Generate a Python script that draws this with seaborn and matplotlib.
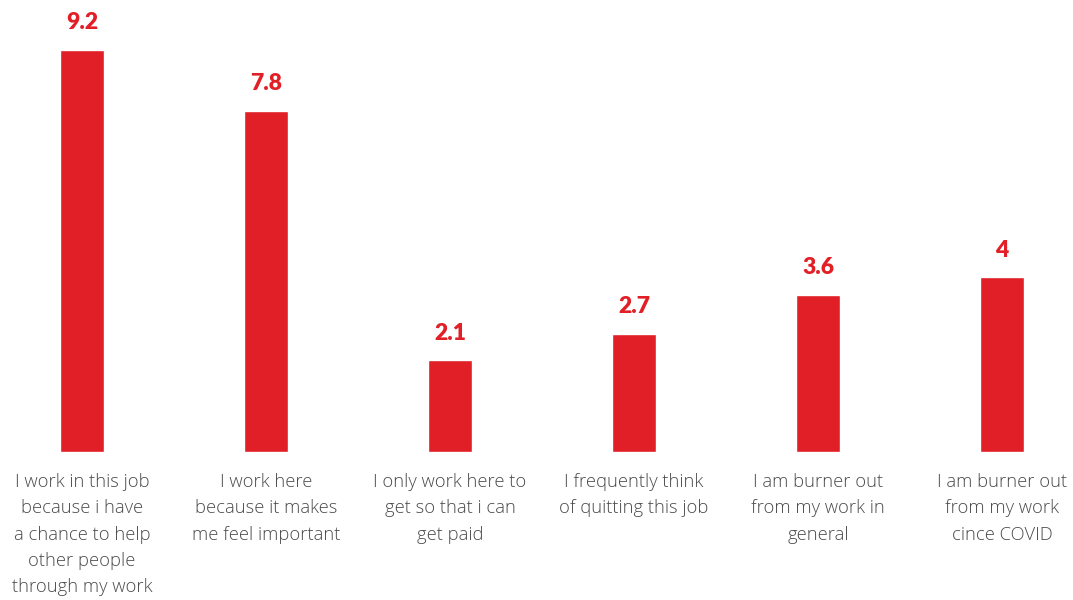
import matplotlib
matplotlib.use("Agg")
import matplotlib.pyplot as plt
import seaborn as sns
import pandas as pd

categories = [
    "I work in this job\nbecause i have\na chance to help\nother people\nthrough my work",
    "I work here\nbecause it makes\nme feel important",
    "I only work here to\nget so that i can\nget paid",
    "I frequently think\nof quitting this job",
    "I am burner out\nfrom my work in\ngeneral",
    "I am burner out\nfrom my work\ncince COVID",
]
values = [9.2, 7.8, 2.1, 2.7, 3.6, 4]
value_labels = ["9.2", "7.8", "2.1", "2.7", "3.6", "4"]

BAR_COLOR = "#E11F26"
TEXT_COLOR = "#4a4a4a"

sns.set_theme(style="white")
plt.rcParams["font.family"] = ["Open Sans", "DejaVu Sans"]

df = pd.DataFrame({"category": categories, "value": values})

fig = plt.figure(figsize=(10.73, 6.0), dpi=100)
ax = fig.add_axes([0.0, 148 / 600, 1.0, 452 / 600])

sns.barplot(data=df, x="category", y="value", color=BAR_COLOR,
            width=0.234, saturation=1, ax=ax)

ax.set_xlim(-82 / 184, (1073 - 82) / 184)
ax.set_ylim(0, 452 / 43.7)

ax.bar_label(ax.containers[0], labels=value_labels, padding=12,
             color=BAR_COLOR, fontsize=16.5, fontweight="heavy",
             family=["Lato", "DejaVu Sans"])

ax.set_xlabel("")
ax.set_ylabel("")
ax.set_yticks([])
ax.tick_params(axis="x", length=0, pad=15)
for lbl in ax.get_xticklabels():
    lbl.set_fontsize(13.2)
    lbl.set_color(TEXT_COLOR)
    lbl.set_linespacing(1.6)
    lbl.set_fontweight("light")
    lbl.set_verticalalignment("top")
for s in ax.spines.values():
    s.set_visible(False)

fig.savefig("out.png", dpi=100, facecolor="white")
